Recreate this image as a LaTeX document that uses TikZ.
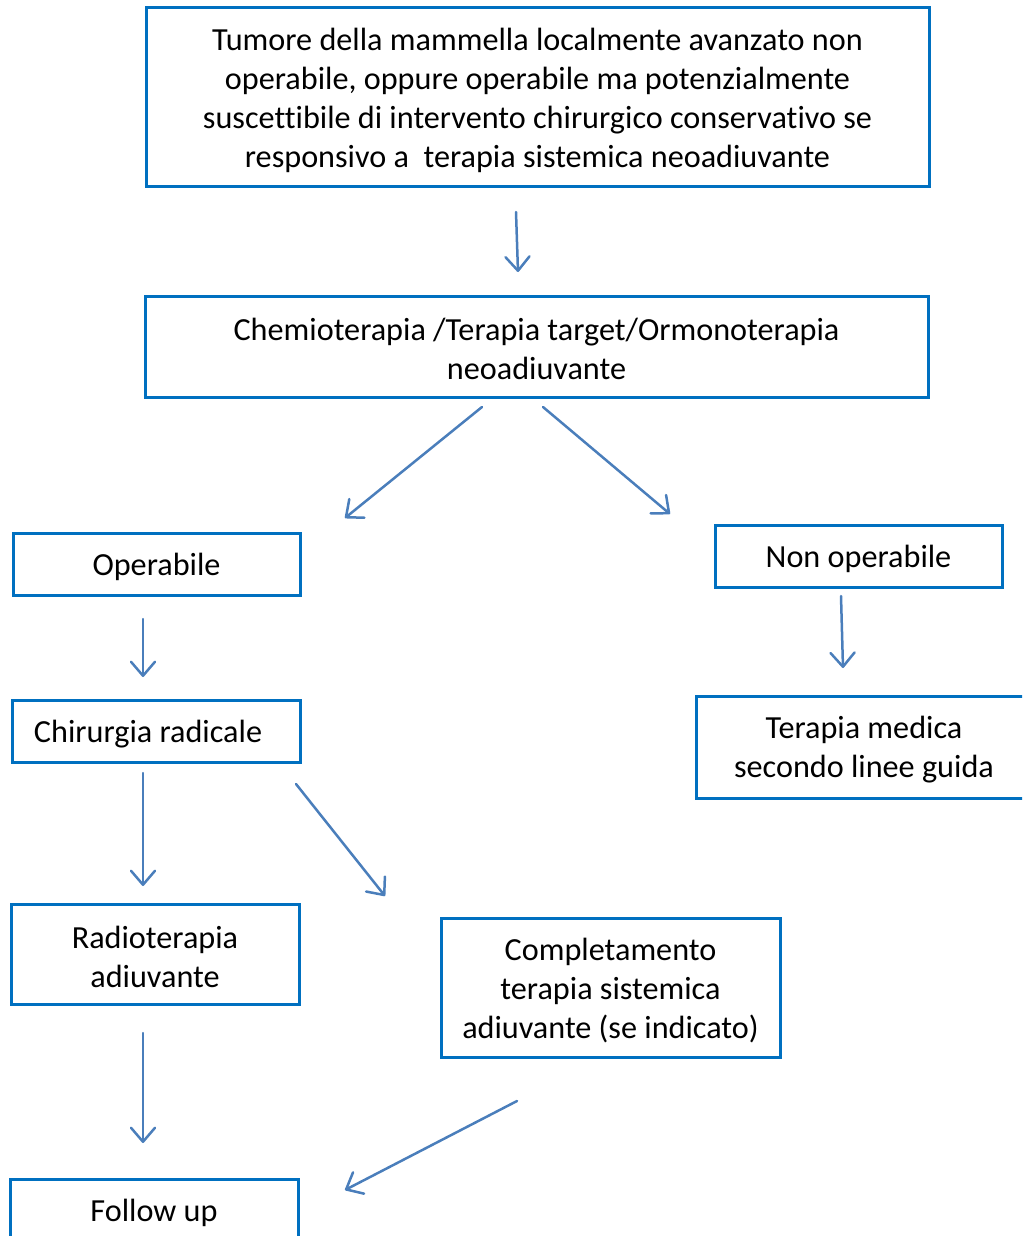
\documentclass[tikz,border=0pt]{standalone}
\usepackage{fontspec}
\setmainfont[Ligatures={NoCommon}]{Carlito}
\usetikzlibrary{arrows.meta}
\definecolor{boxblue}{RGB}{0,112,192}
\definecolor{arrowblue}{RGB}{74,126,187}
\begin{document}
\begin{tikzpicture}[x=1pt,y=-1pt,
  box/.style={draw=boxblue, line width=3pt, rectangle, inner sep=0pt},
  txt/.style={inner sep=0pt, align=center, font=\fontsize{32.2}{39}\selectfont},
  flow/.style={draw=arrowblue, line width=2.5pt, line cap=round,
    -{Straight Barb[length=14pt,width=24pt,line width=2.5pt,round]}},
]
\useasboundingbox (0,0) rectangle (1022,1236);
\clip (0,0) rectangle (1022,1236);

% boxes
\node[box, minimum width=783pt, minimum height=178pt] (tumore) at (537.5,97) {};
\node[box, minimum width=783pt, minimum height=101pt] (chemio) at (536.5,346.5) {};
\node[box, minimum width=287pt, minimum height=62pt] (oper) at (156.5,564) {};
\node[box, minimum width=287pt, minimum height=62pt] (nonoper) at (858.5,556) {};
\node[box, minimum width=288pt, minimum height=62pt] (chir) at (156,731) {};
\node[box, minimum width=336pt, minimum height=102pt] (medica) at (864,747) {};
\node[box, minimum width=288pt, minimum height=100pt] (radio) at (155,954) {};
\node[box, minimum width=339pt, minimum height=139pt] (compl) at (610.5,987.5) {};
\node[box, minimum width=288pt, minimum height=62pt] (follow) at (154,1210) {};

% box texts
\node[txt] (tumoreT) at ([yshift=-3pt]tumore.center)
  {Tumore della mammella localmente avanzato non\\operabile, oppure operabile ma potenzialmente\\suscettibile di intervento chirurgico conservativo se\\responsivo a~~terapia sistemica neoadiuvante};
\node[txt] (chemioT) at ([yshift=-2pt]chemio.center)
  {Chemioterapia /Terapia target/Ormonoterapia\\neoadiuvante};
\node[txt] (operT) at ([yshift=-3pt]oper.center) {Operabile};
\node[txt] (nonoperT) at ([yshift=-3pt]nonoper.center) {Non operabile};
\node[txt] (chirT) at ([xshift=-8pt,yshift=-3pt]chir.center) {Chirurgia radicale};
\node[txt] (medicaT) at ([yshift=-3pt]medica.center) {Terapia medica\\secondo linee guida};
\node[txt] (radioT) at ([yshift=-3pt]radio.center) {Radioterapia\\adiuvante};
\node[txt] (complT) at ([yshift=-3pt]compl.center)
  {Completamento\\terapia sistemica\\adiuvante (se indicato)};
\node[txt] (followT) at ([yshift=-3pt]follow.center) {Follow up};

% connector end points
\coordinate (a1s) at (516,212);  \coordinate (a1e) at (518,272);
\coordinate (a2s) at (482,407);  \coordinate (a2e) at (345,518);
\coordinate (a3s) at (543,407);  \coordinate (a3e) at (670,514);
\coordinate (a4s) at (143,619);  \coordinate (a4e) at (143,677);
\coordinate (a5s) at (841,596);  \coordinate (a5e) at (843,668);
\coordinate (a6s) at (143,773);  \coordinate (a6e) at (143,886);
\coordinate (a7s) at (296,784);  \coordinate (a7e) at (385,896);
\coordinate (a8s) at (143,1033); \coordinate (a8e) at (143,1143);
\coordinate (a9s) at (517,1101); \coordinate (a9e) at (345,1190);

\draw[flow] (a1s) -- (a1e);
\draw[flow] (a2s) -- (a2e);
\draw[flow] (a3s) -- (a3e);
\draw[flow] (a4s) -- (a4e);
\draw[flow] (a5s) -- (a5e);
\draw[flow] (a6s) -- (a6e);
\draw[flow] (a7s) -- (a7e);
\draw[flow] (a8s) -- (a8e);
\draw[flow] (a9s) -- (a9e);
\end{tikzpicture}
\end{document}
